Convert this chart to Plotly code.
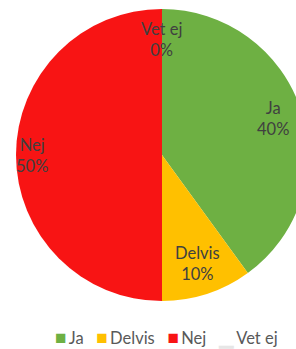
import math
import plotly.graph_objects as go

labels = ["Ja", "Delvis", "Nej", "Vet ej"]
values = [40, 10, 50, 0]
colors = ["#6EB043", "#FFC000", "#F81414", "#E6E6E6"]
label_radius = [0.8, 0.78, 0.89, 0.79]

W, H = 324, 349
cx_px, cy_px, r_px = 162, 155, 146
dom_x = [(cx_px - r_px) / W, (cx_px + r_px) / W]
dom_y = [1 - (cy_px + r_px) / H, 1 - (cy_px - r_px) / H]
FONT = "Lato, Open Sans, sans-serif"

fig = go.Figure(go.Pie(
    labels=labels, values=values, sort=False, direction="clockwise", rotation=0,
    marker=dict(colors=colors, line=dict(width=0)),
    textinfo="none", hoverinfo="label+percent",
    domain=dict(x=dom_x, y=dom_y),
    showlegend=False,
))

total = sum(values)
cum = 0
anns = []
for lab, v, f in zip(labels, values, label_radius):
    mid = (cum + v / 2) / total * 2 * math.pi
    cum += v
    x = cx_px + math.sin(mid) * r_px * f
    y = cy_px - math.cos(mid) * r_px * f
    anns.append(dict(x=x / W, y=1 - y / H, xref="paper", yref="paper",
                     xanchor="center", yanchor="middle",
                     text=f"{lab}<br>{round(v / total * 100)}%", showarrow=False,
                     font=dict(family=FONT, size=16.5, color="#404040"),
                     align="center"))

# legend row
parts = []
for lab, col in zip(labels, colors):
    sym = "■" if lab != "Vet ej" else "▁"
    parts.append(f"<span style='font-size:19px;color:{col}'>{sym}</span>"
                 f"<span style='font-size:9px'>&nbsp;</span>{lab}")
legend_text = "&nbsp;&nbsp;&nbsp;".join(parts)
anns.append(dict(x=166 / W, y=1 - 337 / H, xref="paper", yref="paper",
                 xanchor="center", yanchor="middle", showarrow=False,
                 text=legend_text, font=dict(family=FONT, size=16.5, color="#595959")))

fig.update_layout(
    width=W, height=H, margin=dict(l=0, r=0, t=0, b=0),
    paper_bgcolor="white", plot_bgcolor="white",
    annotations=anns,
)

fig.write_html("out.html", config={"displayModeBar": False},
               post_script="document.body.style.margin='0';document.body.style.overflow='hidden';document.documentElement.style.overflow='hidden';")
